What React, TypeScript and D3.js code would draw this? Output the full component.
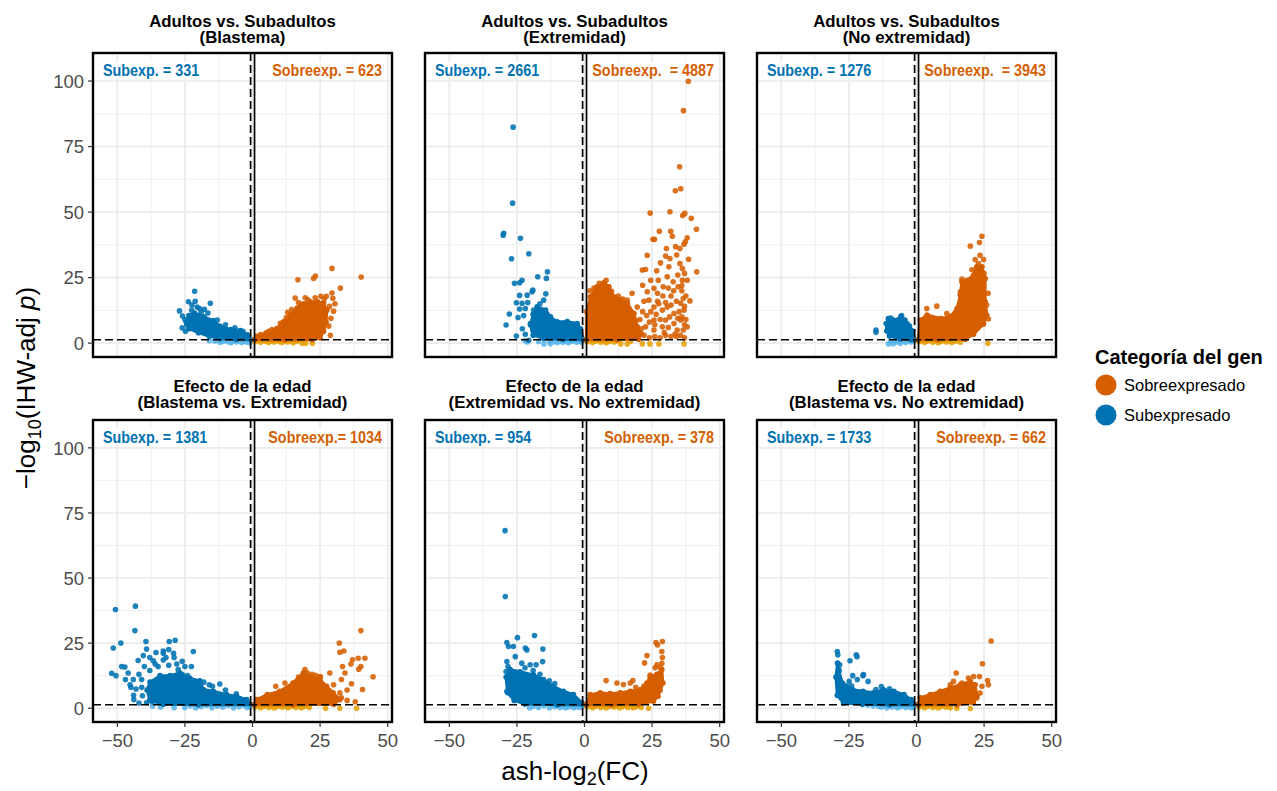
import React, { useEffect, useRef } from 'react';
import * as d3 from 'd3';

// panel titles (two lines each)
const panelTitles = [
  ['Adultos vs. Subadultos', '(Blastema)'],
  ['Adultos vs. Subadultos', '(Extremidad)'],
  ['Adultos vs. Subadultos', '(No extremidad)'],
  ['Efecto de la edad', '(Blastema vs. Extremidad)'],
  ['Efecto de la edad', '(Extremidad vs. No extremidad)'],
  ['Efecto de la edad', '(Blastema vs. No extremidad)'],
];
const subCounts = [331, 2661, 1276, 1381, 954, 1733];
const sobreCounts = [623, 4887, 3943, 1034, 378, 662];
const sobrePrefix = ['Sobreexp. = ', 'Sobreexp.  = ', 'Sobreexp.  = ', 'Sobreexp.= ', 'Sobreexp. = ', 'Sobreexp. = '];

const xTicks = [-50, -25, 0, 25, 50];
const yTicks = [0, 25, 50, 75, 100];
const legendLabels = ['Sobreexpresado', 'Subexpresado'];

// ---- Panel 1: Adultos vs Subadultos (Blastema)
const p1UpCore = [[0.8,1.3],[1.5,2.6],[5,3.8],[9,5.6],[11.5,8.1],[14,10.7],[16.5,13.4],[19,15],[21.3,15.8],[24,15.8],[26.3,15.3],[27.5,12.5],[27.2,8],[26.3,4.5],[25,2],[22,1.3],[12,1.2]];
const p1UpPts = [[29.4,28.5],[40.2,25.2],[16.8,24.2],[22.6,24.7],[23.3,25.6],[32.5,21],[15.8,17.2],[19.5,17.3],[23.2,17.3],[25.3,17.9],[27.3,17.9],[29.4,19.1],[29.7,17.1],[28.5,14],[30,12.2],[29,9.5],[28.2,6.5],[12.5,9.8],[10.3,7.6],[7.2,5.2],[18,14.8],[14.5,12.8],[20.5,16.5],[17,15.5],[30.5,15],[26.5,16.8],[3,3.3],[6,4.5],[13,11.8],[28.8,3]];
const p1UpNs = [[1,0.5],[2,0.9],[3,0.3],[4,1],[5,0.6],[6,0.2],[7,0.8],[8,0.4],[9,1],[10,0.5],[11,0.2],[12,0.8],[13,0.4],[14,1],[15,0.1],[16,0.6],[17,0.9],[18.3,-0.1],[19.7,-0.1],[22.2,-0.1]];
const p1DownCore = [[-0.5,1.3],[-2,3.2],[-4.5,4.8],[-8,5.2],[-12,6.4],[-14.5,8.6],[-18,10],[-21.5,11.5],[-23.5,10.5],[-24.5,8],[-23.5,5.5],[-20,4],[-16,2.6],[-12,1.8],[-6,1.4]];
const p1DownPts = [[-21.4,19.8],[-27,12.3],[-25.9,10.3],[-23.7,15.8],[-22.4,14.5],[-23,10.3],[-15.6,15.2],[-19.6,13.2],[-17.8,12.9],[-26,5.8],[-24.3,6.9],[-20.5,13.8],[-21.2,16],[-25,9],[-16.5,11.5],[-13,8.8],[-10,7],[-6.5,5.8],[-3.5,4.5],[-19,11.8],[-22.5,12.5],[-24.8,4.5]];
const p1DownNs = [[-16,0.9],[-14,0.8],[-13,1.1],[-12,0.3],[-11,0.6],[-10,1],[-9,0.5],[-8,0.1],[-7,0.9],[-6,0.4],[-5,1],[-4,0.2],[-3,0.7],[-2,0.3],[-1,0.1]];

// ---- Panel 2: Adultos vs Subadultos (Extremidad)
const p2UpCore = [[0.7,1.3],[0.9,12],[2.2,17.7],[4.7,21.5],[7.2,23],[9,21.5],[10.9,17.7],[13.4,16.4],[15.8,15.2],[18.3,11.3],[19.5,6.2],[21,3.5],[20,1.5],[12,1.3]];
const p2UpPts = [[38.4,99.9],[36.6,88.7],[35.2,67.3],[33.6,58.1],[35.6,58.9],[24.3,49.6],[31.6,50.1],[37.1,49.5],[36.3,48.7],[39.5,47.6],[41.4,43.4],[27.7,42.7],[31.9,42.7],[32.5,40.8],[25.3,39.6],[25.9,39.6],[38,40.2],[37.3,38.7],[36.8,37.7],[41.5,27.2],[30.3,36.1],[33.7,36.8],[35.3,36.1],[30,33.2],[23.2,33.5],[34.1,33.6],[28.1,30.6],[31.6,32.3],[35.3,30.4],[36.2,28.5],[21.4,27.9],[22.6,28.1],[26.7,27.6],[31.2,29.1],[30.6,25.3],[32.8,23.4],[37,26.6],[36.2,24],[21.5,22.1],[23.2,19.6],[25.7,20.9],[27.3,24],[29.1,21.5],[34.6,21.5],[39,16.1],[38,6.2],[17.6,19],[19.5,13.8],[15.8,16.4],[23.8,16.4],[25.7,13.8],[28.8,12.6],[30.6,13.8],[33.1,11.3],[35.6,15.2],[36.8,12.6],[35.6,8.8],[34.3,5],[36.5,5],[28.8,6.2],[25.7,5],[22.6,6.2],[20.5,3.7],[18.3,5],[15.8,10],[13.9,13.8],[17.6,11.3],[25.7,8.8],[30,8.8],[33.1,7.5],[36,20],[36.5,17],[37,14],[36,10],[37,7],[35.5,3],[37,2],[34,2.5],[32,2.5],[30,3],[28,2],[26,2.5],[24,2],[22,3],[2,20],[3.5,21],[5.5,22.8],[8,24],[10,19.8],[12.5,18],[14.2,16.8],[11.5,15.5],[27,16],[32,18],[34.5,26],[38.5,32],[20.5,9],[21.5,12],[22,16],[23,10.5],[24,8],[24.5,12],[26.5,11],[27.5,15],[28,9],[29,18],[29.5,4],[31,6],[31.5,10],[32,14.5],[33,20],[34,16],[33.5,3.5],[35,12],[36,22],[37.5,18],[38,24],[37.5,9],[27,19],[24.5,24],[26,7],[31,21],[19,8.5],[21,5.5],[30,15.5],[34.5,9.5]];
const p2UpNs = [[1,0.5],[2,0.9],[3,0.2],[4,0.7],[5,1.1],[6,0.3],[7,0.8],[8,0.1],[9,0.6],[10,1],[11,0.4],[12,0.9],[13.4,-0.3],[15.8,-0.3],[17,0.6],[21.4,-0.3],[24.2,-0.3],[27.5,-0.3],[36.8,-0.3]];
const p2DownCore = [[-0.4,1.3],[-1.5,5.5],[-2.7,7.5],[-6.4,8.2],[-10.1,8.1],[-12.6,10],[-14.4,12.6],[-17.5,13.9],[-19,11],[-20,7],[-19,3],[-15,1.8],[-8,1.4]];
const p2DownPts = [[-26.4,82.4],[-26.6,53.4],[-29.9,41.9],[-30.1,41.2],[-23.7,40],[-27,32.2],[-20.6,34.1],[-13.7,27.2],[-14.1,24.7],[-17.3,25.3],[-23.1,24],[-24,23],[-25.9,22.8],[-19.4,19.6],[-19.1,20.2],[-14.3,18.8],[-21.2,18.3],[-24,18.2],[-25.2,15.4],[-23.1,15.2],[-15.1,16.4],[-21.9,13.2],[-18.8,12.6],[-27.8,11.1],[-24.6,9.8],[-29,6.9],[-25.2,2.7],[-20,7.5],[-19.1,5],[-21.9,3.4],[-20.6,1.1],[-22.5,10.5],[-21,15.5],[-16.5,15],[-23,5.5],[-17,9],[-15.5,10.5],[-24,13]];
const p2DownNs = [[-22,1],[-21.2,0.4],[-17,0.6],[-15,-0.3],[-13,0.8],[-12.6,-0.2],[-11,0.5],[-10,0.2],[-9,0.8],[-8,0.3],[-7,0.9],[-6,0.1],[-5,0.6],[-4,1],[-3,0.3],[-2,0.7],[-1,0.2]];

// ---- Panel 3: Adultos vs Subadultos (No extremidad)
const p3UpCore = [[0.6,1.3],[1.4,8.8],[3.9,10.7],[8.8,9.4],[12.5,10.1],[15,13.2],[16.2,18.3],[16.8,23.4],[18.7,24],[21.1,25.9],[22.3,29.1],[24.2,29.1],[25.4,24.6],[25.4,15.8],[26,10.7],[24.8,7.3],[21.1,3.4],[18,1.5],[8,1.3]];
const p3UpPts = [[24.2,40.8],[23.3,38.4],[19.9,37],[21.7,31.9],[24.8,31.9],[22.9,30.4],[22.3,28.5],[25,26.6],[23.6,26],[16.8,24.4],[18.4,22.8],[19.9,23.4],[17.4,20.9],[16.2,19.6],[16.2,15.2],[26,14.5],[25.4,11.9],[26.6,9.2],[3.8,13.2],[7.5,14.1],[11.2,11.3],[14.9,11.3],[20.5,28],[23.5,33.5],[26.5,19],[24.5,21.5]];
const p3UpNs = [[1,0.5],[2,0.9],[3,0.2],[4,0.7],[5,1.1],[6,0.3],[7,0.8],[8,0.1],[9,0.6],[10,1],[11,0.4],[12,0.9],[13,0.2],[14,0.6],[15,1],[16.2,0.3],[26.4,-0.1]];
const p3DownCore = [[-0.5,1.3],[-1.4,4.6],[-2.6,6.5],[-4.3,8.8],[-5.8,10.1],[-7,8.8],[-8.6,8.8],[-10.4,9.4],[-11.2,7.5],[-11,4.6],[-10,2.7],[-6,1.6],[-2,1.3]];
const p3DownPts = [[-15,5],[-15,4.1],[-5.5,10.5],[-9.5,9.6],[-3.5,7.5]];
const p3DownNs = [[-10.4,-0.3],[-9.5,0.6],[-8.6,-0.2],[-8,0.9],[-7,0.4],[-6,-0.1],[-5,0.8],[-4,0.2],[-3,1],[-2,0.4],[-1,0.9]];

// ---- Panel 4: Efecto de la edad (Blastema vs Extremidad)
const p4UpCore = [[0.6,1.3],[1.5,3.3],[5.5,5.2],[10.1,6.5],[15,9.7],[18.8,13.5],[21.2,12.2],[24.9,11],[27.4,8.4],[29.8,5.9],[32.3,3.3],[30,1.5],[15,1.3]];
const p4UpPts = [[40.1,29.8],[32.1,25],[33.8,22],[32.3,21.5],[39.1,19.2],[41.6,19.2],[37,18.6],[36.4,17],[39.3,15],[40.1,16],[33.3,16],[34.2,13.5],[44.6,12.1],[40.7,7.2],[36.6,9.4],[32.9,11],[28.6,13.5],[24.9,12.2],[27.4,7.8],[32.3,5.9],[32.9,4],[8.6,8.4],[12,9.7],[19.4,14.8],[20.3,13.5],[23.3,12.6],[25.1,12],[30,9],[35,7],[35,3],[38,2.5],[17,12],[22,13]];
const p4UpNs = [[1,0.5],[2,0.9],[3,0.2],[4,0.7],[5,1.1],[6,0.3],[7,0.8],[8,0.1],[9,0.6],[10,1],[11,0.4],[12,0.9],[13,0.2],[14,0.6],[15,1],[16,0.3],[17,0.8],[18,0.2],[19,0.6],[20,1],[21,0.3],[27,0],[32.3,0],[38.5,0]];
const p4DownCore = [[-0.4,1.3],[-2.2,3.3],[-5.9,4.6],[-9.6,5.2],[-14.5,6.5],[-18.2,7.2],[-19.5,10.5],[-23.2,11.5],[-26.9,13.5],[-30.5,12.5],[-34.2,12.5],[-37.9,10],[-39,7],[-38,3],[-33,1.5],[-20,1.3]];
const p4DownPts = [[-50.7,37.9],[-43.3,39.2],[-43.5,29.8],[-51.5,23.1],[-48.7,25],[-52.1,13.4],[-50.5,12.5],[-39.4,25.6],[-39.2,22.7],[-30.8,25.6],[-28.6,26.1],[-35.7,21.4],[-33,21.1],[-21.9,21.8],[-48.4,16],[-47.2,15.8],[-42.3,18.3],[-40.4,20.2],[-29,19.5],[-36.7,18.2],[-29.2,21.1],[-46,13.5],[-44.1,11],[-45.3,9],[-43.1,7.4],[-41,11],[-34.9,16],[-25,16],[-22.6,16],[-27.5,14.8],[-43.9,3.3],[-40.7,4.8],[-39.2,2.1],[-12.1,9.3],[-14.8,8.4],[-18.2,5.9],[-44,5],[-42,13],[-40,16],[-38,14.5],[-36,17],[-33,18.5],[-31,16.5],[-28,17],[-26,13],[-24,10],[-22,8.5],[-35,4],[-42,2],[-37,2.5],[-33,22],[-31,22.5],[-18,10],[-16,9],[-10,7],[-6,5.5],[-47,11],[-45,8],[-32,19.5],[-38,19.5],[-26,18],[-24,12.5],[-41,8],[-36,9]];
const p4DownNs = [[-37,0.8],[-34,0.5],[-29,0.2],[-25,0.3],[-23,0.9],[-21,0.1],[-19,0.6],[-17,1.1],[-15,0.2],[-13,0.8],[-11,0.4],[-9,1],[-7,0.1],[-5,0.6],[-3,1],[-2,0.3],[-1,0.7]];

// ---- Panel 5: Efecto de la edad (Extremidad vs No extremidad)
const p5UpCore = [[0.6,1.3],[2.1,5.2],[5.8,5.9],[9.5,5.6],[13.2,5.9],[16.9,6.5],[20.6,7.1],[23.1,9.7],[24.3,12.2],[26.8,13],[28.6,14.8],[29,9.7],[27.2,4.6],[25.5,2.7],[20,1.6],[10,1.3]];
const p5UpPts = [[26.4,25.2],[28.8,25.6],[27,24.3],[23.1,20.2],[28.6,21.8],[28.8,19.5],[22.2,17.4],[26.8,16.7],[28,15.5],[28.6,17.2],[26.1,15.5],[8,10.6],[12,9.7],[14.4,9.1],[17.9,10.6],[16.9,9.7],[24.3,12.7],[27.6,12.7],[25.5,10.1],[26.8,9.1],[28,6.9],[23.7,9.7],[19,8],[22,8.5]];
const p5UpNs = [[1,0.5],[2,0.9],[3,0.2],[4,0.7],[5,1.1],[6,0.3],[7,0.8],[8,0.1],[9,0.6],[10,1],[11,0.4],[12,0.9],[13,0.2],[14,0.6],[15,1],[16,0.3],[17,0.8],[18,0.2],[19,0.6],[20,1],[21,0.3],[23.7,0]];
const p5DownCore = [[-0.5,1.3],[-1,2.1],[-4.1,5.2],[-7.8,6.5],[-11.5,8.4],[-15.2,11],[-18.9,12.8],[-23.8,14],[-27.5,14.8],[-29,12],[-28.5,6],[-26,3],[-22,1.6],[-10,1.3]];
const p5DownPts = [[-29.4,68.2],[-29.3,42.9],[-24.8,27.1],[-18.5,27.9],[-28.7,25.2],[-28.1,23.7],[-26.3,23.7],[-21.9,23.1],[-21.3,22.4],[-15.4,22.7],[-25.6,19.8],[-23.2,17.3],[-20.1,16.7],[-17.9,16.7],[-15.5,17.9],[-28.7,17.9],[-28.3,16],[-29,14.1],[-26.8,11.6],[-23.8,10.3],[-26.8,7.8],[-25.6,5.9],[-28.7,6.5],[-22,15.5],[-19,14.5],[-16.5,13],[-13,10.5],[-11,9.5]];
const p5DownNs = [[-20.3,0.1],[-19,0.7],[-17,0.3],[-15,0.9],[-13,0.2],[-11,0.6],[-10,1],[-9,0.3],[-8,0.8],[-7,0.1],[-6,0.5],[-5,1],[-4,0.2],[-3,0.7],[-2,0.3],[-1,0.8]];

// ---- Panel 6: Efecto de la edad (Blastema vs No extremidad)
const p6UpCore = [[0.6,1.3],[1.4,4],[5.1,5.2],[8.8,6.5],[12.5,7.8],[16.2,9],[19.9,10.3],[21.7,9],[22.3,4.6],[21,2.1],[15,1.3]];
const p6UpPts = [[27.6,25.8],[24.4,17.1],[14.7,13.5],[26.3,10.6],[26.6,9],[23.3,12.2],[21.1,12.2],[19.2,11.6],[13.7,10.3],[12.5,9],[16.8,9.7],[24.2,8.4],[23.5,5.8],[22.3,3.9],[20.5,7.1],[17.4,9]];
const p6UpNs = [[1,0.5],[2,0.9],[3,0.2],[4,0.7],[5,1.1],[6,0.3],[7,0.8],[8,0.1],[9,0.6],[10,1],[11,0.4],[12,0.9],[12.5,0.2],[14.9,0],[19.9,-0.1]];
const p6DownCore = [[-0.5,1.3],[-2,3.3],[-4.6,5.2],[-8.4,6.5],[-12.2,7.1],[-16,5.9],[-19.8,6.5],[-23.6,7.1],[-27.4,9.7],[-28.7,14],[-29.2,17.3],[-29.8,12],[-29.3,5],[-27,2],[-20,1.5],[-10,1.3]];
const p6DownPts = [[-29.3,21.8],[-29.1,20.5],[-22.3,20.5],[-24.6,18.2],[-22,19.8],[-24.9,10.3],[-23.6,12.5],[-19.8,12.5],[-17.9,10.3],[-28.4,16.7],[-28.7,14.8],[-21.9,11],[-19.6,12.9],[-13,8.3],[-10,7.5],[-15,7.2],[-26,8.5],[-24,8.5]];
const p6DownNs = [[-18,1.2],[-16,0.9],[-14,0.7],[-13,0.5],[-12,1],[-11,0.2],[-10,0.8],[-9,0.4],[-8,1.1],[-7,0.1],[-6,0.6],[-5,1],[-4,0.3],[-3,0.8],[-2,0.2],[-1,0.6]];

const panels = [
  { upCore: p1UpCore, upPts: p1UpPts, upNs: p1UpNs, downCore: p1DownCore, downPts: p1DownPts, downNs: p1DownNs },
  { upCore: p2UpCore, upPts: p2UpPts, upNs: p2UpNs, downCore: p2DownCore, downPts: p2DownPts, downNs: p2DownNs },
  { upCore: p3UpCore, upPts: p3UpPts, upNs: p3UpNs, downCore: p3DownCore, downPts: p3DownPts, downNs: p3DownNs },
  { upCore: p4UpCore, upPts: p4UpPts, upNs: p4UpNs, downCore: p4DownCore, downPts: p4DownPts, downNs: p4DownNs },
  { upCore: p5UpCore, upPts: p5UpPts, upNs: p5UpNs, downCore: p5DownCore, downPts: p5DownPts, downNs: p5DownNs },
  { upCore: p6UpCore, upPts: p6UpPts, upNs: p6UpNs, downCore: p6DownCore, downPts: p6DownPts, downNs: p6DownNs },
];

const W = 1277;
const H = 791;
const FONT = '"Liberation Sans", Arial, Helvetica, sans-serif';
const colUp = '#D55E00';
const colDown = '#0072B2';
const colUpNs = '#E69F00';
const colDownNs = '#56B4E9';

const App = () => {
  const svgRef = useRef<SVGSVGElement>(null);

  useEffect(() => {
    const svg = d3.select(svgRef.current);
    svg.selectAll('*').remove();
    svg.attr('font-family', FONT);

    svg.append('rect').attr('width', W).attr('height', H).attr('fill', '#fff');

    const colLefts = [93, 425, 757];
    const rowTops = [53, 420];
    const rowHeights = [304, 302];
    const pw = 299;
    const titleBase = [[26.5, 43], [391.5, 408]];

    panels.forEach((p, i) => {
      const col = i % 3;
      const row = Math.floor(i / 3);
      const left = colLefts[col];
      const top = rowTops[row];
      const ph = rowHeights[row];

      const x = d3.scaleLinear().domain([-59, 51.6]).range([0, pw]);
      const y = d3.scaleLinear().domain([-5.3, 110.7]).range([ph, 0]);

      const g = svg.append('g').attr('transform', `translate(${left},${top})`);
      const clipId = `clip-${i}`;
      g.append('clipPath').attr('id', clipId)
        .append('rect').attr('width', pw).attr('height', ph);

      // grid
      const minorX = [-37.5, -12.5, 12.5, 37.5];
      const minorY = [12.5, 37.5, 62.5, 87.5];
      g.selectAll('.mgx').data(minorX).enter().append('line')
        .attr('x1', d => x(d)).attr('x2', d => x(d)).attr('y1', 0).attr('y2', ph)
        .attr('stroke', '#EBEBEB').attr('stroke-width', 0.8);
      g.selectAll('.mgy').data(minorY).enter().append('line')
        .attr('y1', d => y(d)).attr('y2', d => y(d)).attr('x1', 0).attr('x2', pw)
        .attr('stroke', '#EBEBEB').attr('stroke-width', 0.8);
      g.selectAll('.gx').data(xTicks).enter().append('line')
        .attr('x1', d => x(d)).attr('x2', d => x(d)).attr('y1', 0).attr('y2', ph)
        .attr('stroke', '#EBEBEB').attr('stroke-width', 1.6);
      g.selectAll('.gy').data(yTicks).enter().append('line')
        .attr('y1', d => y(d)).attr('y2', d => y(d)).attr('x1', 0).attr('x2', pw)
        .attr('stroke', '#EBEBEB').attr('stroke-width', 1.6);

      const plot = g.append('g').attr('clip-path', `url(#${clipId})`);
      const area = d3.line<number[]>().x(d => x(d[0])).y(d => y(d[1])).curve(d3.curveLinearClosed);

      const drawPts = (data: number[][], color: string, op: number) => {
        plot.append('g').selectAll('circle').data(data).enter().append('circle')
          .attr('cx', d => x(d[0])).attr('cy', d => y(d[1])).attr('r', 2.8)
          .attr('fill', color).attr('fill-opacity', op);
      };
      const drawCore = (data: number[][], color: string) => {
        plot.append('path').datum(data).attr('d', area)
          .attr('fill', color).attr('stroke', color).attr('stroke-width', 3)
          .attr('stroke-linejoin', 'round');
        drawPts(data, color, 1);
      };

      drawPts(p.downNs, colDownNs, 0.85);
      drawPts(p.upNs, colUpNs, 0.85);
      drawCore(p.downCore, colDown);
      drawCore(p.upCore, colUp);
      drawPts(p.downPts, colDown, 0.88);
      drawPts(p.upPts, colUp, 0.88);

      // threshold lines
      plot.append('line').attr('x1', 0).attr('x2', pw).attr('y1', y(1.3)).attr('y2', y(1.3))
        .attr('stroke', '#000').attr('stroke-width', 1.5).attr('stroke-dasharray', '8,4');
      plot.append('line').attr('x1', x(-0.7)).attr('x2', x(-0.7)).attr('y1', 0).attr('y2', ph)
        .attr('stroke', '#000').attr('stroke-width', 1.7).attr('stroke-dasharray', '8,4');
      plot.append('line').attr('x1', x(0.75)).attr('x2', x(0.75)).attr('y1', 0).attr('y2', ph)
        .attr('stroke', '#000').attr('stroke-width', 1.7);

      // count labels with white boxes (condensed like the original)
      const addLabel = (txt: string, xp: number, anchor: string, color: string) => {
        const t = g.append('text').attr('x', xp).attr('y', 23)
          .attr('text-anchor', anchor).attr('fill', color)
          .attr('font-weight', 'bold').attr('font-size', 16.5)
          .style('white-space', 'pre')
          .text(txt);
        const node = t.node() as SVGTextElement;
        const natural = node.getComputedTextLength();
        t.attr('textLength', natural * 0.87).attr('lengthAdjust', 'spacingAndGlyphs');
        const bb = node.getBBox();
        g.insert('rect', () => node as any)
          .attr('x', bb.x - 3).attr('y', bb.y + 1).attr('width', bb.width + 6).attr('height', bb.height - 2)
          .attr('fill', '#fff');
      };
      addLabel(`Subexp. = ${subCounts[i]}`, 10, 'start', colDown);
      addLabel(`${sobrePrefix[i]}${sobreCounts[i]}`, pw - 10, 'end', colUp);

      // border
      g.append('rect').attr('width', pw).attr('height', ph)
        .attr('fill', 'none').attr('stroke', '#000').attr('stroke-width', 2.4);

      // strip titles
      panelTitles[i].forEach((line, k) => {
        svg.append('text').attr('x', left + pw / 2).attr('y', titleBase[row][k])
          .attr('text-anchor', 'middle').attr('font-weight', 'bold').attr('font-size', 16.8)
          .attr('fill', '#000').text(line);
      });

      // y axis (first column only)
      if (col === 0) {
        yTicks.forEach(v => {
          g.append('line').attr('x1', -5).attr('x2', 0).attr('y1', y(v)).attr('y2', y(v))
            .attr('stroke', '#333').attr('stroke-width', 1.2);
          g.append('text').attr('x', -9).attr('y', y(v)).attr('dy', '0.36em')
            .attr('text-anchor', 'end').attr('font-size', 18.5).attr('fill', '#4D4D4D').text(v);
        });
      }
      // x axis (bottom row only)
      if (row === 1) {
        xTicks.forEach(v => {
          g.append('line').attr('x1', x(v)).attr('x2', x(v)).attr('y1', ph).attr('y2', ph + 5)
            .attr('stroke', '#333').attr('stroke-width', 1.2);
          g.append('text').attr('x', x(v)).attr('y', ph + 25)
            .attr('text-anchor', 'middle').attr('font-size', 18.5).attr('fill', '#4D4D4D')
            .text(v < 0 ? `\u2212${Math.abs(v)}` : `${v}`);
        });
      }
    });

    // x axis title
    const xt = svg.append('text').attr('x', 575).attr('y', 780)
      .attr('text-anchor', 'middle').attr('font-size', 26).attr('fill', '#000');
    xt.append('tspan').text('ash-log');
    xt.append('tspan').attr('font-size', 18).attr('dy', 5).text('2');
    xt.append('tspan').attr('dy', -5).text('(FC)');

    // y axis title
    const yt = svg.append('text')
      .attr('transform', 'translate(35,388) rotate(-90)')
      .attr('text-anchor', 'middle').attr('font-size', 26).attr('fill', '#000');
    yt.append('tspan').text('\u2212log');
    yt.append('tspan').attr('font-size', 18).attr('dy', 6).text('10');
    yt.append('tspan').attr('dy', -6).text('(IHW-adj ');
    yt.append('tspan').attr('font-style', 'italic').text('p');
    yt.append('tspan').text(')');

    // legend
    svg.append('text').attr('x', 1095).attr('y', 364)
      .attr('font-weight', 'bold').attr('font-size', 20).attr('fill', '#000')
      .text('Categoría del gen');
    [colUp, colDown].forEach((c, k) => {
      svg.append('circle').attr('cx', 1106).attr('cy', 385 + k * 30).attr('r', 10.5).attr('fill', c);
      svg.append('text').attr('x', 1124).attr('y', 385 + k * 30).attr('dy', '0.36em')
        .attr('font-size', 16.5).attr('fill', '#000').text(legendLabels[k]);
    });
  }, []);

  return (
    <svg ref={svgRef} width={W} height={H} style={{ position: 'absolute', left: 0, top: 0 }} />
  );
};

export default App;
